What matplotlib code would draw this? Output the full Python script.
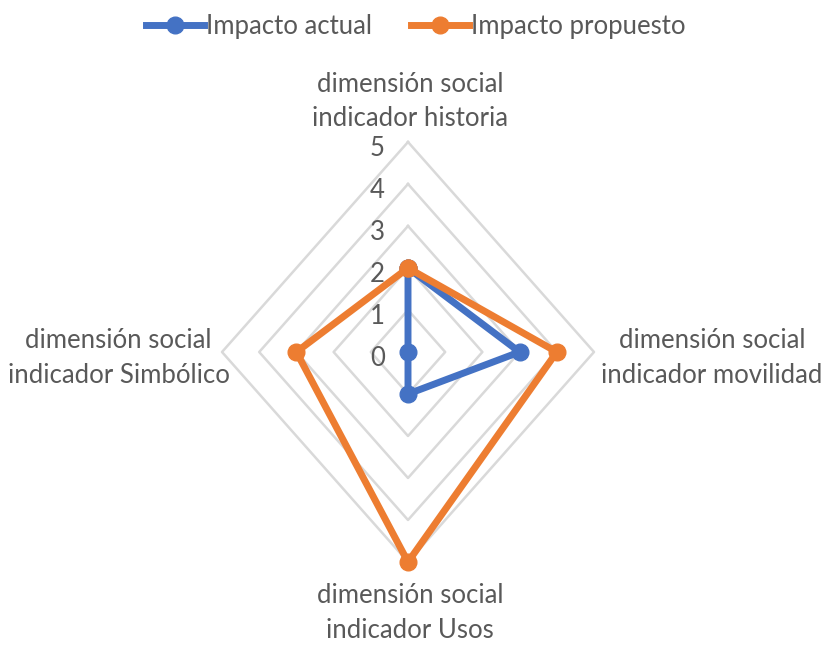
import numpy as np
import matplotlib.pyplot as plt

# Data
categories = ['dimensión social\nindicador historia',
              'dimensión social\nindicador movilidad',
              'dimensión social\nindicador Usos',
              'dimensión social\nindicador Simbólico']
actual = [2, 3, 1, 0]
propuesto = [2, 4, 5, 3]
series_names = ['Impacto actual', 'Impacto propuesto']
ticks = [0, 1, 2, 3, 4, 5]

blue = '#4472C4'
orange = '#ED7D31'
grey_text = '#595959'
grid_col = '#D9D9D9'
plt.rcParams['font.family'] = ['Lato', 'DejaVu Sans']
fs = 18.5

fig = plt.figure(figsize=(8.27, 6.48), dpi=100)
W, H = 827, 648
cx, cy = 408, 648 - 352
rx, ry = 186, 210
ax = fig.add_axes([(cx - rx) / W, (cy - ry) / H, 2 * rx / W, 2 * ry / H])
ax.set_xlim(-5, 5)
ax.set_ylim(-5, 5)
ax.axis('off')

n = len(categories)
angles = np.arange(n) * 2 * np.pi / n  # clockwise from top


def to_xy(vals):
    vals = np.asarray(vals, dtype=float)
    x = vals * np.sin(angles)
    y = vals * np.cos(angles)
    return np.append(x, x[0]), np.append(y, y[0])


# grid rings
for t in ticks[1:]:
    gx, gy = to_xy([t] * n)
    ax.plot(gx, gy, color=grid_col, lw=1.8, zorder=1, clip_on=False)

# tick labels
for t in ticks:
    ax.text(-0.62, t - 0.15, str(t), ha='right', va='center', fontsize=fs,
            color=grey_text)

# series
for vals, col, name in [(actual, blue, series_names[0]),
                        (propuesto, orange, series_names[1])]:
    sx, sy = to_xy(vals)
    ax.plot(sx, sy, color=col, lw=5, marker='o', markersize=12,
            label=name, zorder=3, clip_on=False)

# category labels
kw = dict(fontsize=fs, color=grey_text, linespacing=1.5, multialignment='center')
ax.text(0.05, 5.25, categories[0], ha='center', va='bottom', **kw)
ax.text(5.2, -0.15, categories[1], ha='left', va='center', **kw)
ax.text(0.05, -5.5, categories[2], ha='center', va='top', **kw)
ax.text(-4.8, -0.15, categories[3], ha='right', va='center', **kw)

fig.legend(loc='upper center', bbox_to_anchor=(0.503, 1.0), ncol=2,
           frameon=False, fontsize=fs, labelcolor=grey_text,
           handlelength=2.25, handletextpad=0.1, columnspacing=1.5,
           borderaxespad=0.15)

fig.savefig('out.png', dpi=100)
